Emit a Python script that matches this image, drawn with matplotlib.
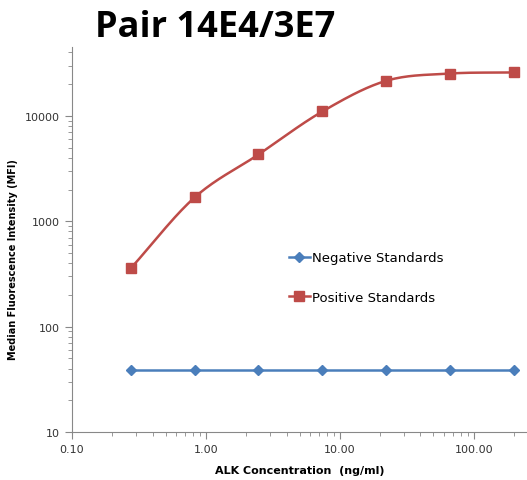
import numpy as np
import matplotlib
matplotlib.use("Agg")
import matplotlib.pyplot as plt
from matplotlib.ticker import FixedLocator, LogLocator, NullFormatter

# ALK concentration (ng/ml), 3-fold dilution series
conc = [0.274, 0.823, 2.47, 7.41, 22.2, 66.7, 200.0]
neg_mfi = [39, 39, 39, 39, 39, 39, 39]
pos_mfi = [356, 1680, 4300, 11000, 21500, 25200, 25800]

blue = "#4A7EBB"
red = "#BE4B48"


def smooth(xs, ys, n=30):
    # catmull-rom through the points in log space (Excel-style smoothed line)
    lx = np.log10(xs)
    ly = np.log10(ys)
    px = np.concatenate([[2 * lx[0] - lx[1]], lx, [2 * lx[-1] - lx[-2]]])
    py = np.concatenate([[2 * ly[0] - ly[1]], ly, [2 * ly[-1] - ly[-2]]])
    ox, oy = [], []
    for i in range(1, len(px) - 2):
        t = np.linspace(0, 1, n)
        for p, o in ((px, ox), (py, oy)):
            p0, p1, p2, p3 = p[i - 1], p[i], p[i + 1], p[i + 2]
            o.extend(0.5 * (2 * p1 + (-p0 + p2) * t + (2 * p0 - 5 * p1 + 4 * p2 - p3) * t ** 2
                            + (-p0 + 3 * p1 - 3 * p2 + p3) * t ** 3))
    return 10 ** np.array(ox), 10 ** np.array(oy)


fig = plt.figure(figsize=(5.27, 4.81), dpi=100)
ax = fig.add_axes([72 / 527, 48 / 481, 455 / 527, 385 / 481])

ax.plot(conc, neg_mfi, color=blue, lw=1.8, marker="D", ms=5, mfc=blue, mec=blue,
        label="Negative Standards")
sx, sy = smooth(conc, pos_mfi)
ax.plot(sx, sy, color=red, lw=1.8)
ax.plot(conc, pos_mfi, color=red, lw=0, marker="s", ms=7, label="_nolegend_")
ax.plot([], [], color=red, lw=1.8, marker="s", ms=7, label="Positive Standards")

ax.set_xscale("log")
ax.set_yscale("log")
ax.set_xlim(0.1, 250)
ax.set_ylim(10, 45000)

ax.xaxis.set_major_locator(FixedLocator([0.1, 1, 10, 100]))
ax.set_xticklabels(["0.10", "1.00", "10.00", "100.00"])
ax.yaxis.set_major_locator(FixedLocator([10, 100, 1000, 10000]))
ax.set_yticklabels(["10", "100", "1000", "10000"])
ax.xaxis.set_minor_locator(LogLocator(subs=np.arange(2, 10)))
ax.yaxis.set_minor_locator(LogLocator(subs=np.arange(2, 10)))
ax.xaxis.set_minor_formatter(NullFormatter())
ax.yaxis.set_minor_formatter(NullFormatter())

for s in ("top", "right"):
    ax.spines[s].set_visible(False)
for s in ("left", "bottom"):
    ax.spines[s].set_color("#888888")
ax.tick_params(which="major", length=5, color="#888888", labelsize=8, labelcolor="#333333")
ax.tick_params(which="minor", length=3, color="#888888")

ax.set_xlabel("ALK Concentration  (ng/ml)", fontsize=8, fontweight="bold", labelpad=8)
ax.set_ylabel("Median Fluorescence Intensity (MFI)", fontsize=7, fontweight="bold")
ax.yaxis.set_label_coords(-54 / 455, 0.45)

fig.text(95 / 527, 1 - 28 / 481, "Pair 14E4/3E7", fontsize=26, fontweight="bold",
         family="Open Sans", va="center", ha="left")

ax.legend(loc="upper left", bbox_to_anchor=(0.45, 0.50), frameon=False, fontsize=9.5,
          labelspacing=2.0, handlelength=1.6, handletextpad=0.2)

fig.savefig("out.png", dpi=100)
